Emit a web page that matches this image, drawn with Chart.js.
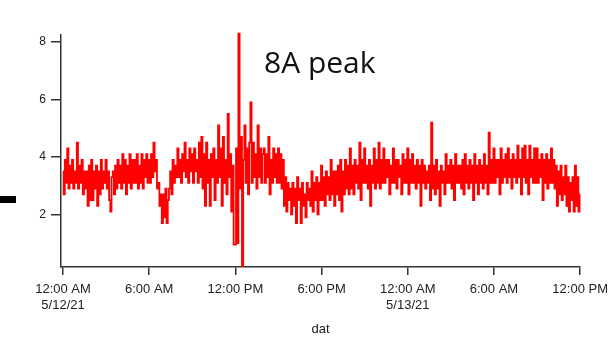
<!DOCTYPE html>
<html>
<head>
<meta charset="utf-8">
<script src="https://cdn.jsdelivr.net/npm/chart.js@4"></script>
<style>
  html, body { margin:0; padding:0; background:#fff; }
</style>
</head>
<body>
<canvas id="c" width="615" height="338"></canvas>
<script>
// current readings, one every 5 min from 12:00 AM 5/12/21 (x in hours)
const stepHours = 1/12;
const amps = [
  3.5, 2.7, 3.9, 3.1, 4.3, 2.9, 3.7, 3.1, 3.9, 2.9, 3.5, 3.1,   // 0h
  4.5, 2.9, 3.7, 3.1, 3.9, 2.7, 3.5, 2.9, 3.5, 2.3, 3.7, 2.5,   // 1h
  3.9, 2.5, 3.5, 2.9, 3.7, 2.3, 3.5, 2.7, 3.9, 2.9, 3.5, 3.1,   // 2h
  3.9, 2.9, 3.5, 2.5, 2.1, 3.3, 3.5, 2.7, 3.7, 2.9, 3.9, 3.1,   // 3h
  3.7, 2.9, 4.1, 3.1, 3.9, 2.7, 3.7, 3.1, 4.1, 2.9, 3.9, 3.1,   // 4h
  3.9, 3.1, 4.1, 2.9, 3.7, 3.1, 4.1, 2.9, 3.9, 3.3, 4.1, 3.1,   // 5h
  3.9, 3.1, 4.1, 3.3, 4.5, 3.5, 3.9, 2.9, 3.1, 2.3, 2.7, 1.7,   // 6h
  2.7, 1.9, 2.9, 1.7, 2.5, 2.9, 3.5, 2.7, 3.9, 3.1, 3.7, 3.3,   // 7h
  4.3, 3.3, 3.9, 3.1, 4.1, 3.5, 4.5, 3.3, 3.9, 3.1, 4.3, 3.5,   // 8h
  4.1, 3.1, 4.3, 3.5, 3.9, 3.1, 4.5, 3.3, 4.7, 2.9, 4.1, 2.3,   // 9h
  4.5, 3.1, 3.9, 2.3, 4.1, 3.3, 4.3, 2.5, 3.9, 3.1, 5.1, 3.3,   // 10h
  4.3, 2.3, 4.7, 3.1, 3.9, 2.7, 5.5, 3.3, 4.1, 2.1, 3.7, 0.95,  // 11h
  0.95, 4.3, 1.0, 8.3, 2.9, 4.7, 0.2, 3.9, 5.1, 3.1, 4.3, 2.7,  // 12h
  4.5, 5.9, 3.1, 4.5, 3.3, 4.1, 2.9, 5.1, 3.3, 4.3, 3.1, 4.1,   // 13h
  4.3, 3.1, 4.1, 3.3, 4.7, 2.7, 3.9, 3.1, 4.3, 3.3, 4.1, 3.1,   // 14h
  4.3, 3.1, 4.1, 2.9, 3.9, 2.3, 3.3, 2.1, 3.1, 2.5, 2.9, 2.0,   // 15h
  3.1, 2.3, 2.9, 1.7, 3.3, 2.5, 2.9, 1.7, 3.1, 2.3, 2.7, 1.9,   // 16h
  3.1, 2.5, 2.9, 2.3, 3.5, 2.1, 3.1, 2.5, 3.3, 2.0, 3.1, 2.5,   // 17h
  3.7, 2.5, 3.3, 2.3, 3.5, 2.7, 3.3, 2.5, 3.9, 2.7, 3.5, 2.3,   // 18h
  3.5, 2.7, 3.7, 2.5, 3.9, 2.1, 3.5, 2.7, 3.9, 2.9, 3.7, 2.7,   // 19h
  4.3, 2.9, 3.7, 2.7, 3.9, 3.1, 3.7, 2.9, 4.5, 2.5, 3.9, 3.1,   // 20h
  4.3, 3.1, 3.7, 2.9, 3.9, 2.3, 3.7, 3.1, 4.3, 2.9, 3.9, 3.1,   // 21h
  4.5, 2.9, 3.9, 3.1, 4.3, 3.1, 3.9, 3.3, 3.9, 2.7, 3.7, 3.1,   // 22h
  4.3, 3.1, 3.9, 2.9, 3.9, 3.3, 3.7, 2.7, 4.1, 3.1, 3.9, 3.1,   // 23h
  4.3, 2.7, 3.9, 3.1, 4.1, 3.1, 3.7, 2.9, 3.9, 3.1, 3.7, 2.3,   // 24h
  3.9, 3.1, 3.7, 2.9, 3.5, 3.1, 3.7, 2.5, 5.2, 2.9, 3.7, 2.7,   // 25h
  3.9, 2.9, 3.5, 2.3, 3.7, 3.1, 3.5, 2.7, 4.1, 3.1, 3.7, 3.1,   // 26h
  3.9, 2.9, 3.7, 2.5, 4.1, 3.1, 3.7, 3.1, 3.7, 2.9, 3.9, 2.7,   // 27h
  4.1, 3.1, 3.7, 2.9, 3.9, 3.1, 3.7, 2.5, 4.1, 3.1, 3.7, 2.7,   // 28h
  3.9, 3.1, 3.7, 2.9, 4.1, 3.1, 3.7, 2.7, 4.85, 3.1, 3.9, 3.1,  // 29h
  4.3, 3.1, 3.9, 3.3, 3.9, 2.7, 4.3, 3.1, 3.9, 3.3, 4.1, 3.1,   // 30h
  4.3, 3.3, 3.9, 2.9, 4.1, 3.3, 3.9, 3.1, 4.4, 3.3, 3.9, 2.7,   // 31h
  4.3, 3.3, 4.4, 3.1, 3.9, 2.7, 4.4, 3.3, 3.9, 3.1, 4.3, 3.1,   // 32h
  4.3, 3.1, 3.9, 3.3, 4.1, 2.5, 3.9, 3.1, 4.1, 2.9, 3.9, 3.1,   // 33h
  4.3, 3.1, 3.9, 2.9, 3.7, 2.3, 3.5, 2.7, 3.7, 2.5, 3.3, 2.7,   // 34h
  3.7, 2.3, 3.3, 2.1, 3.1, 2.5, 3.3, 2.1, 3.7, 2.3, 3.3, 2.1,   // 35h
  2.7                                                          // 36h
];
const tickHours = [0, 6, 12, 18, 24, 30, 36];
const tickLabels = [['12:00 AM', '5/12/21'], '6:00 AM', '12:00 PM', '6:00 PM', ['12:00 AM', '5/13/21'], '6:00 AM', '12:00 PM'];
const yTicks = [2, 4, 6, 8];
const peakNote = '8A peak';

const red = '#ff0000';
const axisColor = '#333';
const textColor = '#222';

// text note + the stray mark at the left edge
const extras = {
  id: 'extras',
  afterDraw(chart){
    const ctx = chart.ctx;
    ctx.save();
    ctx.fillStyle = '#111';
    ctx.font = '30px "Open Sans"';
    ctx.textBaseline = 'alphabetic';
    ctx.fillText(peakNote, 264, 73);
    ctx.fillStyle = '#000';
    ctx.fillRect(0, 196, 16, 7);
    ctx.restore();
  }
};

new Chart(document.getElementById('c'), {
  type: 'line',
  data: {
    datasets: [{
      data: amps.map((v, i) => ({ x: i * stepHours, y: v })),
      borderColor: red,
      borderWidth: 1.8,
      pointRadius: 0,
      stepped: 'middle',
      clip: false
    }]
  },
  options: {
    responsive: false,
    animation: false,
    layout: { padding: { left: 0, right: 34, top: 35, bottom: 0 } },
    plugins: { legend: { display: false }, tooltip: { enabled: false } },
    scales: {
      x: {
        type: 'linear', min: -0.14, max: 36,
        afterBuildTicks: s => { s.ticks = tickHours.map(v => ({ value: v })); },
        afterFit: s => { s.height = 71; },
        grid: { drawOnChartArea: false, tickLength: 8, color: axisColor, lineWidth: 1.5 },
        border: { color: axisColor, width: 1.5 },
        ticks: {
          autoSkip: false, maxRotation: 0, padding: 7, color: textColor,
          font: { family: 'Liberation Sans', size: 13, lineHeight: 1.2 },
          callback: v => tickLabels[tickHours.indexOf(v)]
        },
        title: { display: true, text: 'dat', color: textColor, font: { family: 'Liberation Sans', size: 13 }, padding: { top: 0, bottom: 1 } }
      },
      y: {
        min: 0.17, max: 8.25,
        afterBuildTicks: s => { s.ticks = yTicks.map(v => ({ value: v })); },
        afterFit: s => { s.width = 61; },
        grid: { drawOnChartArea: false, tickLength: 10, color: axisColor, lineWidth: 1.5 },
        border: { color: axisColor, width: 1.5 },
        ticks: { padding: 5, color: textColor, font: { family: 'Liberation Sans', size: 12 } }
      }
    }
  },
  plugins: [extras]
});
</script>
</body>
</html>
